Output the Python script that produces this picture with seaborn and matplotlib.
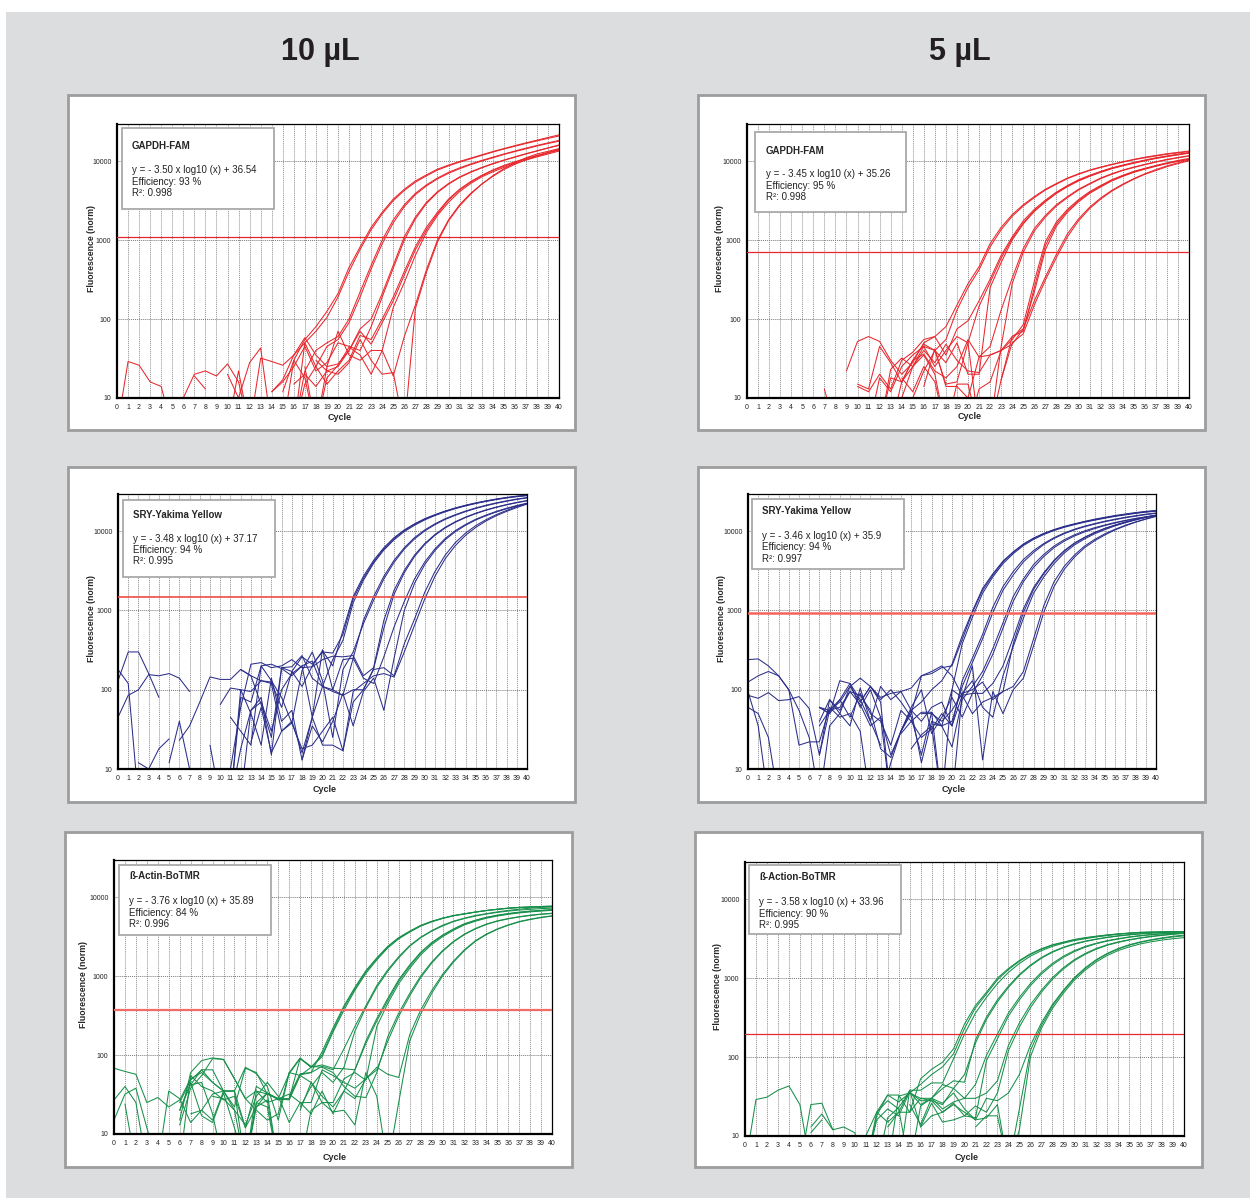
import numpy as np
import pandas as pd
import matplotlib
matplotlib.use("Agg")
import matplotlib.pyplot as plt
from matplotlib.patches import Rectangle
from matplotlib.ticker import MultipleLocator, LogLocator, NullFormatter
import seaborn as sns

N = None  # no reading / gap in the trace

cycles = list(range(41))

# normalised fluorescence per cycle (0..40), one list per well

# GAPDH-FAM, 10 uL
gapdh_10 = [
    [4, 29, 26, 16, 14, 4, 4, 4, 4, 4,
     4, 4, 4, 4, 4, 4, 30, 55, 80, 125,
     210, 450, 820, 1450, 2250, 3300, 4400, 5600, 6700, 7900,
     8900, 9900, 10900, 12000, 13200, 14400, 15700, 17000, 18400, 19900, 21500],
    [N, N, N, N, N, N, N, 19, 13, N,
     N, N, N, N, 12, 17, 35, 50, 70, 105,
     190, 400, 760, 1350, 2150, 3150, 4250, 5400, 6500, 7700,
     8700, 9700, 10700, 11800, 13000, 14200, 15400, 16700, 18000, 19400, 20800],
    [4, 4, 4, 4, 4, 4, 10, 20, 22, 19,
     27, 16, 4, 4, 4, 4, 4, 22, 40, 50,
     60, 100, 220, 480, 1000, 1800, 2800, 3900, 5000, 6100,
     7200, 8200, 9200, 10200, 11200, 12300, 13400, 14600, 15800, 17000, 18300],
    [N, N, N, N, N, N, N, N, N, N,
     20, 10, 28, 43, 4, 4, 4, 15, 25, 45,
     55, 90, 190, 430, 900, 1650, 2650, 3750, 4850, 5950,
     7000, 8000, 9000, 10000, 11000, 12100, 13200, 14300, 15500, 16700, 17900],
    [N, N, N, N, N, N, N, N, N, N,
     4, 22, 4, 32, 29, 26, 35, 58, 35, 25,
     27, 40, 75, 100, 210, 480, 1100, 1950, 3000, 4100,
     5200, 6300, 7300, 8300, 9300, 10300, 11300, 12400, 13500, 14700, 16000],
    [N, N, N, N, N, N, N, N, N, N,
     N, N, N, N, 12, 16, 25, 45, 22, 28,
     50, 45, 40, 80, 190, 440, 1000, 1850, 2900, 4000,
     5100, 6200, 7200, 8200, 9200, 10200, 11200, 12300, 13400, 14600, 15800],
    [N, N, N, N, N, N, N, N, N, N,
     N, N, N, N, N, N, 4, 50, 25, 15,
     22, 30, 62, 55, 100, 190, 400, 820, 1450, 2250,
     3300, 4400, 5500, 6600, 7700, 8800, 9800, 10800, 11800, 12900, 14000],
    [N, N, N, N, N, N, N, N, N, N,
     N, N, N, N, N, N, 15, 20, 14, 22,
     25, 40, 70, 48, 90, 170, 360, 750, 1350, 2150,
     3200, 4300, 5400, 6500, 7600, 8600, 9600, 10600, 11600, 12700, 13800],
    [N, N, N, N, N, N, N, N, N, N,
     N, N, N, N, N, 12, 30, 18, 4, 25,
     70, 35, 30, 40, 40, 140, 290, 640, 1250, 2050,
     3000, 4100, 5200, 6300, 7300, 8300, 9300, 10300, 11300, 12300, 13400],
    [N, N, N, N, N, N, N, N, N, N,
     N, N, N, N, N, N, N, 25, 4, 18,
     26, 44, 35, 20, 40, 19, 60, 150, 420, 1000,
     1800, 2800, 3900, 5100, 6400, 7800, 9100, 10400, 11600, 12800, 14000],
    [N, N, N, N, N, N, N, N, N, N,
     N, N, N, N, N, N, N, N, 30, 22,
     20, 28, 55, 30, 20, 21, 4, 135, 390, 940,
     1750, 2700, 3800, 5100, 6500, 8000, 9500, 11000, 12300, 13300, 14400],
]

# GAPDH-FAM, 5 uL
gapdh_5 = [
    [N, N, N, N, N, N, N, N, N, 22,
     52, 60, 52, 30, 20, 28, 50, 60, 80, 150,
     280, 460, 900, 1450, 2100, 2800, 3550, 4400, 5200, 6100,
     6900, 7700, 8400, 9100, 9800, 10500, 11200, 11800, 12400, 12900, 13400],
    [N, N, N, N, N, N, N, 13, 4, N,
     15, 13, 45, 28, 16, 25, 45, 40, 55, 130,
     250, 420, 820, 1350, 2000, 2700, 3450, 4300, 5100, 6000,
     6800, 7600, 8300, 9000, 9700, 10400, 11000, 11600, 12200, 12700, 13200],
    [N, N, N, N, N, N, N, N, N, N,
     14, 12, 20, 13, 30, 38, 55, 60, 35, 75,
     95, 170, 320, 640, 1100, 1750, 2450, 3200, 4050, 4900,
     5800, 6600, 7400, 8200, 8900, 9600, 10300, 11000, 11600, 12200, 12800],
    [N, N, N, N, N, N, N, N, N, N,
     N, 4, 18, 12, 25, 35, 45, 25, 40, 60,
     50, 145, 290, 590, 1050, 1650, 2350, 3100, 3950, 4800,
     5700, 6500, 7300, 8100, 8800, 9500, 10200, 10900, 11500, 12100, 12700],
    [N, N, N, N, N, N, N, N, N, N,
     N, N, 4, 18, 16, 30, 48, 40, 28, 50,
     20, 20, 250, 520, 1000, 1600, 2300, 3050, 3900, 4750,
     5600, 6400, 7200, 8000, 8700, 9400, 10100, 10800, 11400, 12000, 12600],
    [N, N, N, N, N, N, N, N, N, N,
     N, N, N, 4, 16, 30, 36, 22, 18, 25,
     55, 33, 45, 130, 330, 780, 1400, 2050, 2800, 3550,
     4400, 5200, 6100, 6900, 7700, 8400, 9100, 9800, 10500, 11100, 11700],
    [N, N, N, N, N, N, N, N, N, N,
     N, N, 4, 23, 32, 25, 35, 20, 4, 15,
     15, 4, 4, 45, 280, 700, 1300, 1950, 2700, 3450,
     4300, 5100, 6000, 6800, 7600, 8300, 9000, 9700, 10400, 11000, 11600],
    [N, N, N, N, N, N, N, N, N, N,
     N, N, N, N, 10, 25, 40, 28, 48, 30,
     22, 21, 35, 40, 55, 85, 300, 950, 1700, 2450,
     3250, 4100, 4900, 5800, 6600, 7400, 8100, 8800, 9500, 10200, 10800],
    [N, N, N, N, N, N, N, N, N, N,
     N, N, N, N, 18, 12, 25, 16, 4, 4,
     4, 13, 16, 40, 60, 70, 250, 850, 1600, 2350,
     3150, 4000, 4800, 5700, 6500, 7300, 8000, 8700, 9400, 10000, 10600],
    [N, N, N, N, N, N, N, N, N, N,
     N, N, N, N, N, 10, 22, 40, 15, 16,
     50, 4, 4, 17, 60, 75, 220, 750, 1500, 2250,
     3050, 3900, 4700, 5600, 6400, 7200, 7900, 8600, 9300, 9900, 10500],
    [N, N, N, N, N, N, N, N, N, N,
     N, N, N, N, N, N, 14, 42, 14, 14,
     10, 33, 35, 40, 48, 75, 170, 340, 660, 1200,
     1850, 2600, 3400, 4250, 5100, 6000, 6900, 7800, 8700, 9500, 10300],
    [N, N, N, N, N, N, N, N, N, N,
     N, N, N, N, N, N, N, N, N, N,
     N, N, N, 17, 50, 65, 150, 310, 600, 1100,
     1750, 2500, 3300, 4150, 5000, 5900, 6800, 7600, 8500, 9300, 10100],
]

# SRY-Yakima Yellow, 10 uL
sry_10 = [
    [45, 85, 100, 155, 150, 160, 140, 95, N, N,
     N, N, 180, 150, 65, 25, 190, 170, 110, 200,
     310, 200, 560, 1500, 2700, 4300, 6200, 8300, 10400, 12400,
     14400, 16200, 18000, 19700, 21300, 22800, 24200, 25500, 26700, 27700, 28500],
    [180, 120, 4, N, N, N, 23, 35, 70, 145,
     135, 135, 180, 150, 130, 125, 60, 170, 260, 210,
     300, 290, 500, 1400, 2550, 4100, 6000, 8100, 10200, 12200,
     14200, 16000, 17800, 19500, 21100, 22600, 24000, 25300, 26500, 27500, 28300],
    [130, 300, 300, 160, 80, N, N, N, N, N,
     65, 105, 100, 95, 130, 120, 30, 40, 16, 45,
     110, 240, 420, 1250, 2400, 3950, 5800, 7800, 9900, 11900,
     13900, 15800, 17600, 19300, 20900, 22400, 23800, 25100, 26300, 27300, 28100],
    [N, N, 12, 10, 18, 24, N, N, N, 20,
     4, 4, 80, 70, 200, 210, 185, 150, 200, 230,
     110, 100, 85, 250, 750, 1500, 2700, 4300, 6200, 8300,
     10400, 12400, 14400, 16200, 18000, 19700, 21300, 22800, 24200, 25500, 26600],
    [N, N, N, N, N, 12, 40, 10, N, N,
     N, 45, 30, 20, 200, 130, 80, 38, 175, 300,
     130, 25, 180, 300, 680, 1350, 2500, 4050, 5950, 8000,
     10100, 12100, 14100, 15900, 17700, 19400, 21000, 22500, 23900, 25200, 26300],
    [N, N, N, N, N, N, N, N, N, N,
     N, 10, 60, 210, 220, 190, 200, 240, 190, 195,
     240, 265, 260, 270, 150, 190, 750, 1800, 3200, 5000,
     7000, 9100, 11200, 13200, 15100, 16900, 18600, 20200, 21700, 23100, 24400],
    [N, N, N, N, N, N, N, N, N, N,
     N, 4, 18, 55, 80, 15, 190, 195, 270, 140,
     110, 95, 85, 100, 100, 185, 600, 1600, 3000, 4800,
     6800, 8900, 11000, 13000, 14900, 16700, 18400, 20000, 21500, 22900, 24200],
    [N, N, N, N, N, N, N, N, N, N,
     N, N, 4, 55, 70, 30, 100, 160, 200, 45,
     320, 100, 240, 250, 140, 120, 260, 620, 1300, 2500,
     4100, 6000, 8100, 10200, 12200, 14200, 16000, 17800, 19500, 21100, 22600],
    [N, N, N, N, N, N, N, N, N, N,
     N, 4, 100, 50, 20, 140, 40, 55, 13, 35,
     22, 40, 90, 35, 95, 140, 55, 250, 1000, 2200,
     3800, 5700, 7800, 9900, 11900, 13900, 15700, 17500, 19200, 20800, 22300],
    [N, N, N, N, N, N, N, N, N, N,
     N, N, N, 22, 60, 16, 30, 38, 18, 20,
     30, 45, 17, 70, 100, 180, 190, 150, 380, 780,
     1700, 3100, 5000, 7200, 9500, 11800, 14000, 16200, 18300, 20400, 22500],
    [N, N, N, N, N, N, N, N, N, N,
     N, N, N, N, N, N, N, N, 13, 45,
     20, 20, 17, 95, 120, 150, 160, 145, 300, 650,
     1400, 2700, 4500, 6600, 8900, 11200, 13500, 15700, 17800, 19900, 22000],
]

# SRY-Yakima Yellow, 5 uL
sry_5 = [
    [240, 245, 200, 150, 100, 20, 22, 22, 60, 45,
     50, 30, 4, 4, 12, 30, 55, 70, 100, 130,
     210, 480, 980, 1900, 2900, 4200, 5500, 6900, 8200, 9400,
     10500, 11500, 12400, 13300, 14200, 15000, 15800, 16500, 17200, 17800, 18300],
    [125, 150, 170, 150, 100, 55, 25, 4, 35, 50,
     110, 70, 110, 80, 90, 95, 105, 150, 160, 190,
     200, 430, 940, 1800, 2800, 4100, 5400, 6800, 8100, 9300,
     10400, 11400, 12300, 13200, 14000, 14800, 15600, 16300, 17000, 17600, 18100],
    [85, 78, 92, 73, 75, 82, 58, 15, 55, 60,
     95, 65, 35, 45, 4, N, N, N, 37, 35,
     100, 380, 820, 1650, 2650, 3900, 5200, 6600, 7900, 9100,
     10200, 11200, 12100, 13000, 13800, 14600, 15400, 16100, 16800, 17400, 17900],
    [60, 50, 25, 4, N, N, N, 60, 50, 75,
     120, 60, 100, 45, 15, 30, 55, 40, 60, 70,
     35, 130, 250, 500, 1100, 2000, 3100, 4400, 5700, 7000,
     8300, 9500, 10600, 11600, 12500, 13400, 14200, 15000, 15700, 16400, 17000],
    [95, 35, 4, N, N, N, N, 35, 55, 70,
     110, 140, 110, 75, 100, 70, 45, 15, 52, 35,
     40, 110, 220, 440, 940, 1800, 2800, 4100, 5400, 6800,
     8100, 9300, 10400, 11400, 12300, 13200, 14000, 14800, 15500, 16200, 16800],
    [N, N, N, N, N, N, N, 60, 50, 130,
     120, 75, 40, 110, 75, 95, 55, 12, 40, 35,
     19, 75, 110, 170, 330, 700, 1500, 2500, 3800, 5100,
     6500, 7800, 9000, 10100, 11100, 12000, 12900, 13700, 14500, 15200, 15900],
    [N, N, N, N, N, N, N, 40, 75, 50,
     35, 105, 40, 20, N, 30, 60, 100, 28, 45,
     80, 45, 90, 150, 280, 600, 1300, 2300, 3500, 4800,
     6200, 7500, 8700, 9800, 10800, 11800, 12700, 13600, 14400, 15100, 15800],
    [N, N, N, N, N, N, N, 15, 75, 55,
     95, 85, 55, 18, 14, 30, 50, 150, 170, 200,
     150, 85, 90, 90, 120, 200, 450, 1050, 1950, 3000,
     4300, 5700, 7100, 8400, 9700, 10900, 12000, 13100, 14100, 15100, 16000],
    [N, N, N, N, N, N, N, 60, 55, 75,
     45, 90, 50, 40, 20, 55, 40, 25, 32, 50,
     35, 85, 50, 70, 80, 95, 380, 940, 1850, 2900,
     4200, 5600, 7000, 8300, 9600, 10800, 11900, 13000, 14000, 15000, 15900],
    [N, N, N, N, N, N, N, N, N, N,
     N, 70, 110, 70, 4, N, N, 50, 50, 40,
     55, 90, 130, 60, 45, 150, 350, 800, 1650, 2650,
     3900, 5300, 6700, 8000, 9300, 10500, 11700, 12800, 13900, 14900, 15800],
    [N, N, N, N, N, N, N, N, N, N,
     N, N, N, N, N, 28, 40, 52, 52, 4,
     4, 90, 100, 125, 75, 95, 110, 170, 440, 1150,
     2300, 3600, 5000, 6500, 7900, 9300, 10600, 11900, 13100, 14300, 15500],
    [N, N, N, N, N, N, N, N, N, N,
     N, N, N, N, N, N, 18, 27, 35, 4,
     100, 80, 200, 13, 95, 50, 100, 140, 360, 950,
     2000, 3300, 4700, 6200, 7600, 9000, 10400, 11700, 13000, 14200, 15400],
]

# beta-Actin-BoTMR, 10 uL
actin_10 = [
    [68, 62, 57, 25, 29, 22, 27, 50, 60, 45,
     35, 35, 4, N, N, N, 30, 58, 60, 110,
     220, 420, 720, 1170, 1700, 2380, 3070, 3700, 4380, 4930,
     5420, 5850, 6150, 6480, 6770, 7020, 7260, 7420, 7520, 7620, 7700],
    [27, 40, 25, 4, N, N, 13, 38, 55, 90,
     88, 50, 28, 35, 25, 28, 58, 90, 70, 100,
     205, 400, 690, 1130, 1660, 2340, 3030, 3650, 4350, 4900,
     5400, 5800, 6150, 6450, 6750, 7000, 7250, 7400, 7500, 7600, 7650],
    [15, 32, 38, 12, 4, N, 20, 42, 65, 65,
     35, 22, 68, 60, 32, 28, 27, 55, 70, 95,
     195, 370, 660, 1080, 1600, 2270, 2960, 3600, 4280, 4850,
     5350, 5800, 6100, 6450, 6750, 7000, 7200, 7350, 7450, 7550, 7600],
    [N, 24, 4, N, 4, 35, 28, 14, 20, 32,
     35, 35, 12, 22, 33, 28, 28, 56, 60, 72,
     65, 120, 230, 420, 760, 1200, 1760, 2430, 3100, 3750,
     4400, 4950, 5420, 5850, 6170, 6500, 6780, 7020, 7250, 7400, 7500],
    [N, N, N, N, N, N, 20, 45, 17, 14,
     33, 12, 4, 25, 33, 4, N, 22, 40, 60,
     45, 70, 200, 400, 720, 1150, 1700, 2380, 3050, 3700,
     4300, 4900, 5350, 5750, 6100, 6400, 6650, 6850, 7000, 7150, 7250],
    [N, N, N, N, N, N, 15, 60, 85, 92,
     88, 50, 28, 20, 15, 18, 60, 92, 70, 75,
     68, 67, 65, 150, 290, 520, 900, 1380, 2000, 2650,
     3300, 3950, 4600, 5100, 5550, 5900, 6200, 6450, 6650, 6800, 6950],
    [N, N, N, N, N, N, 25, 48, 65, 45,
     35, 35, 70, 58, 40, 15, 60, 55, 45, 30,
     22, 35, 65, 140, 270, 490, 860, 1330, 1950, 2600,
     3250, 3900, 4550, 5050, 5500, 5850, 6150, 6400, 6600, 6750, 6900],
    [N, N, N, N, N, N, N, 18, 20, 15,
     35, 20, 4, 22, 27, 4, N, 20, 45, 25,
     25, 50, 60, 48, 230, 450, 800, 1250, 1850, 2500,
     3150, 3800, 4450, 4950, 5400, 5750, 6050, 6300, 6500, 6650, 6800],
    [N, N, N, N, N, N, 4, 55, 40, 35,
     27, 30, 12, 40, 33, 27, 28, 90, 72, 70,
     60, 40, 30, 29, 60, 170, 340, 600, 1000, 1500,
     2100, 2750, 3400, 4000, 4550, 5000, 5350, 5650, 5900, 6100, 6250],
    [N, N, N, N, N, N, N, 42, 45, 18,
     4, N, 4, 35, 32, 28, 32, 25, 25, 65,
     55, 45, 38, 50, 65, 150, 310, 560, 950, 1450,
     2050, 2700, 3350, 3950, 4500, 4950, 5300, 5600, 5850, 6050, 6200],
    [N, N, N, N, N, N, N, N, N, 30,
     28, 20, 13, 30, 45, 30, 14, 25, 18, 35,
     18, 35, 28, 50, 70, 57, 52, 180, 370, 650,
     1050, 1550, 2150, 2800, 3400, 3950, 4450, 4900, 5250, 5550, 5800],
    [N, N, N, N, N, N, N, N, N, N,
     N, 4, 4, 25, 22, 4, N, 4, 20, 25,
     19, 20, 13, 60, 30, 4, 25, 150, 330, 600,
     1000, 1500, 2100, 2750, 3350, 3900, 4400, 4850, 5200, 5500, 5750],
]

# beta-Actin-BoTMR, 5 uL
actin_5 = [
    [4, 29, 31, 38, 43, 25, 4, N, N, N,
     N, 10, 20, 33, 33, 20, 53, 70, 86, 127,
     262, 450, 660, 1000, 1320, 1670, 2030, 2350, 2640, 2850,
     3080, 3250, 3390, 3520, 3630, 3720, 3800, 3830, 3850, 3870, 3880],
    [N, N, N, N, N, 4, 25, 26, 12, N,
     N, 4, 18, 33, 27, 35, 45, 60, 75, 110,
     230, 420, 630, 950, 1280, 1630, 1990, 2310, 2600, 2820,
     3050, 3220, 3370, 3500, 3610, 3700, 3780, 3810, 3830, 3850, 3860],
    [N, N, N, N, N, N, 13, 19, 12, 13,
     11, 4, 20, 15, 20, 38, 38, 47, 47, 95,
     195, 360, 570, 850, 1180, 1530, 1890, 2220, 2520, 2760,
     2980, 3150, 3320, 3450, 3580, 3680, 3760, 3800, 3830, 3850, 3870],
    [N, N, N, N, N, N, 11, 16, N, N,
     N, N, 20, 28, 22, 4, 24, 30, 40, 50,
     48, 165, 320, 530, 790, 1110, 1460, 1820, 2160, 2460,
     2720, 2940, 3120, 3290, 3430, 3550, 3650, 3730, 3780, 3810, 3830],
    [N, N, N, N, N, N, N, N, N, N,
     N, 4, 16, 22, 18, 36, 28, 28, 25, 40,
     60, 150, 300, 500, 760, 1080, 1420, 1780, 2120, 2420,
     2680, 2900, 3090, 3260, 3400, 3520, 3620, 3700, 3760, 3790, 3810],
    [N, N, N, N, N, N, N, N, N, N,
     N, N, 4, 17, 23, 36, 25, 30, 22, 27,
     30, 45, 105, 195, 360, 570, 850, 1180, 1530, 1890,
     2220, 2520, 2760, 2980, 3150, 3320, 3450, 3560, 3650, 3720, 3780],
    [N, N, N, N, N, N, N, N, N, N,
     N, N, N, 13, 20, 20, 30, 28, 20, 26,
     18, 17, 90, 170, 330, 530, 800, 1120, 1470, 1820,
     2160, 2460, 2720, 2940, 3120, 3290, 3420, 3530, 3620, 3690, 3750],
    [N, N, N, N, N, N, N, N, N, N,
     N, N, N, 4, 32, 35, 30, 30, 45, 40,
     30, 30, 35, 50, 140, 270, 460, 700, 1010, 1350,
     1710, 2050, 2370, 2640, 2870, 3060, 3230, 3380, 3500, 3610, 3700],
    [N, N, N, N, N, N, N, N, N, N,
     N, N, N, N, 4, 38, 13, 26, 15, 16,
     18, 24, 20, 35, 120, 240, 420, 660, 960, 1300,
     1660, 2000, 2320, 2600, 2830, 3030, 3200, 3350, 3470, 3580, 3680],
    [N, N, N, N, N, N, N, N, N, N,
     N, N, N, N, N, 25, 14, 30, 26, 35,
     22, 16, 30, 28, 35, 60, 140, 270, 460, 700,
     1010, 1350, 1710, 2050, 2370, 2640, 2870, 3060, 3230, 3380, 3500],
    [N, N, N, N, N, N, N, N, N, N,
     N, N, N, N, N, N, 13, 18, 20, 25,
     20, 16, 17, 25, 4, 22, 120, 250, 440, 680,
     990, 1320, 1680, 2020, 2330, 2600, 2830, 3020, 3180, 3320, 3420],
    [N, N, N, N, N, N, N, N, N, N,
     N, N, N, N, N, N, N, N, N, N,
     N, 13, 18, 18, 4, 12, 100, 230, 410, 640,
     940, 1260, 1600, 1930, 2230, 2480, 2700, 2880, 3030, 3150, 3250],
]

thresholds = [1080, 700, 1500, 940, 370, 195]
probe_names = ["GAPDH-FAM", "GAPDH-FAM", "SRY-Yakima Yellow", "SRY-Yakima Yellow",
               "ß-Actin-BoTMR", "ß-Action-BoTMR"]
equations = ["y = - 3.50 x log10 (x) + 36.54", "y = - 3.45 x log10 (x) + 35.26",
             "y = - 3.48 x log10 (x) + 37.17", "y = - 3.46 x log10 (x) + 35.9",
             "y = - 3.76 x log10 (x) + 35.89", "y = - 3.58 x log10 (x) + 33.96"]
efficiencies = [93, 95, 94, 94, 84, 90]
r2_values = ["0.998", "0.998", "0.995", "0.997", "0.996", "0.995"]
column_titles = ["10 µL", "5 µL"]
y_ticks = [10, 100, 1000, 10000]

all_curves = [gapdh_10, gapdh_5, sry_10, sry_5, actin_10, actin_5]

# ---- layout (pixels of the 1250 x 1198 picture) ----
W, H = 1250, 1198
frames = [(68, 95, 575, 430), (698, 95, 1205, 430), (68, 467, 575, 802),
          (698, 467, 1205, 802), (65, 832, 572, 1167), (695, 832, 1202, 1167)]
axes_px = [(117, 124, 559, 398), (747, 124, 1189, 398), (118, 494, 527, 769),
           (748, 494, 1156, 769), (114, 860, 552, 1134), (745, 862, 1184, 1136)]
box_px = [(122, 128, 274, 209), (755, 132, 906, 212), (123, 500, 275, 577),
          (752, 499, 904, 569), (119, 865, 271, 935), (749, 865, 901, 934)]
text_x = [132, 766, 133, 762, 129, 759]
title_y = [146, 151, 515, 511, 876, 877]
line_y = [(170, 182, 193), (174, 186, 197), (539, 550, 561),
          (536, 547, 559), (901, 913, 924), (902, 914, 925)]
ylab_x = [91, 720, 92, 721, 84, 718]
xlab_y = [418, 417, 789, 789, 1158, 1157]
curve_colors = ["#e8272d", "#e8272d", "#2b2e8a", "#2b2e8a", "#17904a", "#17904a"]
thr_colors = ["#e8272d", "#e8272d", "#ee4b43", "#f4635c", "#f26c66", "#e8272d"]
thr_widths = [0.9, 0.9, 1.2, 1.8, 1.6, 0.9]

sns.set_style("white")
plt.rcParams["font.family"] = ["Liberation Sans", "DejaVu Sans"]

fig = plt.figure(figsize=(W / 100, H / 100), dpi=100)


def fx(x):
    return x / W


def fy(y):
    return 1 - y / H


# grey page behind the six panels
fig.add_artist(Rectangle((fx(6), 0), 1 - fx(6), fy(12), transform=fig.transFigure,
                         facecolor="#dcdddf", edgecolor="none", zorder=-3))

for x, t in zip([320, 960], column_titles):
    fig.text(fx(x), fy(52), t, fontsize=22, fontweight="bold", ha="center",
             va="center", color="#231f20")

for i, curves in enumerate(all_curves):
    x0, y0, x1, y1 = frames[i]
    fig.add_artist(Rectangle((fx(x0), fy(y1)), (x1 - x0) / W, (y1 - y0) / H,
                             transform=fig.transFigure, facecolor="white",
                             edgecolor="#9d9d9d", lw=2, zorder=-1))

    l, t, r, b = axes_px[i]
    ax = fig.add_axes([fx(l), fy(b), (r - l) / W, (b - t) / H])
    ax.set_yscale("log")

    # long table, one unit per unbroken stretch of a trace
    rows = []
    for k, curve in enumerate(curves):
        assert len(curve) == len(cycles), (i, k, len(curve))
        seg = 0
        for c, v in zip(cycles, curve):
            if v is None:
                seg += 1
                continue
            rows.append({"cycle": c, "fluo": v, "unit": f"{k}-{seg}"})
    df = pd.DataFrame(rows)

    sns.lineplot(data=df, x="cycle", y="fluo", units="unit", estimator=None,
                 color=curve_colors[i], linewidth=0.75, legend=False, ax=ax)
    ax.axhline(thresholds[i], color=thr_colors[i], lw=thr_widths[i], zorder=3)

    ax.set_xlim(0, 40)
    ax.set_ylim(10, 29500)
    ax.set_xlabel("")
    ax.set_ylabel("")

    ax.set_xticks(cycles)
    ax.set_xticklabels([str(c) for c in cycles])
    ax.xaxis.set_minor_locator(MultipleLocator(0.25))
    ax.set_yticks(y_ticks)
    ax.set_yticklabels([str(v) for v in y_ticks])
    ax.yaxis.set_minor_locator(LogLocator(base=10, subs=np.arange(2, 10)))
    ax.yaxis.set_minor_formatter(NullFormatter())

    ax.tick_params(axis="x", which="major", length=2.5, width=0.6, labelsize=5,
                   pad=1.5, direction="out", colors="#222222")
    ax.tick_params(axis="x", which="minor", length=1.5, width=0.5, direction="out")
    ax.tick_params(axis="y", which="major", length=3, width=0.6, labelsize=5,
                   pad=1, direction="out", colors="#222222")
    ax.tick_params(axis="y", which="minor", length=1.8, width=0.5, direction="out")

    ax.set_axisbelow(True)
    ax.grid(axis="x", which="major", color="#8f8f8f", linestyle=(0, (1, 1)), linewidth=0.7)
    ax.grid(axis="y", which="major", color="#7a7a7a", linestyle=(0, (1, 1)), linewidth=0.7)

    for side in ["top", "right"]:
        ax.spines[side].set_color("black")
        ax.spines[side].set_linewidth(0.9)
    for side in ["left", "bottom"]:
        ax.spines[side].set_color("black")
        ax.spines[side].set_linewidth(1.6)

    # axis labels
    fig.text(fx(ylab_x[i]), fy((t + b) / 2 - 13), "Fluorescence (norm)", rotation=90,
             fontsize=6.3, fontweight="bold", ha="center", va="center")
    fig.text(fx((l + r) / 2 + 2), fy(xlab_y[i]), "Cycle", fontsize=6.5,
             fontweight="bold", ha="center", va="center")

    # standard curve box
    bx0, by0, bx1, by1 = box_px[i]
    fig.add_artist(Rectangle((fx(bx0), fy(by1)), (bx1 - bx0) / W, (by1 - by0) / H,
                             transform=fig.transFigure, facecolor="white",
                             edgecolor="#a9a9a9", lw=1.3, zorder=2))
    fig.text(fx(text_x[i]), fy(title_y[i]), probe_names[i], fontsize=7,
             fontweight="bold", ha="left", va="center", zorder=3)
    lines = [equations[i], f"Efficiency: {efficiencies[i]} %", f"R²: {r2_values[i]}"]
    for s, yy in zip(lines, line_y[i]):
        fig.text(fx(text_x[i]), fy(yy), s, fontsize=7, ha="left", va="center",
                 zorder=3, color="#222222")

fig.savefig("out.png", dpi=100)
